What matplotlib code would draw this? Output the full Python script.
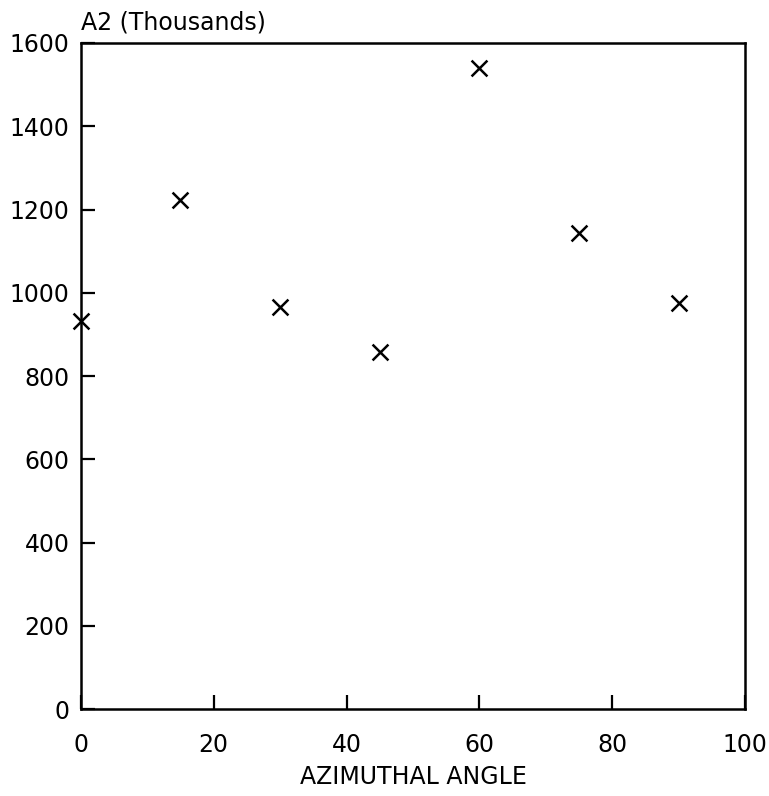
import matplotlib
matplotlib.use("Agg")
import matplotlib.pyplot as plt

# Azimuthal angle (deg) vs A2 (thousands)
angles = [0, 15, 30, 45, 60, 75, 90]
a2_values = [932, 1222, 967, 857, 1539, 1143, 975]

x_ticks = [0, 20, 40, 60, 80, 100]
y_ticks = [0, 200, 400, 600, 800, 1000, 1200, 1400, 1600]

plt.rcParams['font.family'] = ['DejaVu Sans']

fig = plt.figure(figsize=(7.69, 7.96), dpi=100)
ax = fig.add_axes([0.105, 0.109, 0.864, 0.837])

ax.scatter(angles, a2_values, marker='x', s=130, color='black', linewidths=1.8,
           clip_on=False, zorder=3)

ax.set_xlim(0, 100)
ax.set_ylim(0, 1600)
ax.set_xticks(x_ticks)
ax.set_yticks(y_ticks)

for spine in ax.spines.values():
    spine.set_linewidth(1.8)

ax.tick_params(axis='both', direction='in', length=10, width=1.6, labelsize=17)
ax.tick_params(axis='x', pad=17, top=False)
ax.tick_params(axis='y', pad=8, right=False)

ax.set_xlabel('AZIMUTHAL ANGLE', fontsize=17, labelpad=6)
ax.text(0.0, 1.012, 'A2 (Thousands)', transform=ax.transAxes, fontsize=17,
        ha='left', va='bottom')

fig.savefig('out.png', dpi=100, facecolor='white')
